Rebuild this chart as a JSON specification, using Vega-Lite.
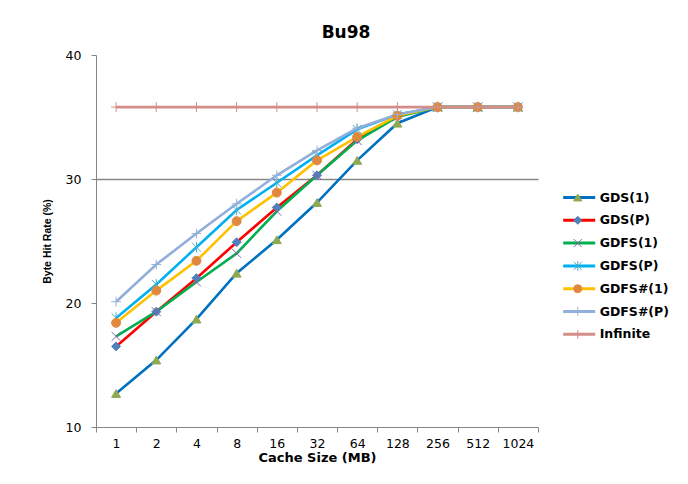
{
  "$schema": "https://vega.github.io/schema/vega-lite/v6.json",
  "width": 442,
  "height": 372,
  "autosize": {"type": "none"},
  "padding": {"left": 96, "top": 55, "right": 150, "bottom": 57},
  "background": "white",
  "config": {"view": {"stroke": null}},
  "title": {"text": "Bu98", "font": "DejaVu Sans", "fontSize": 17, "fontWeight": "bold", "color": "#000000", "dx": 29, "offset": 7},
  "data": {"values": [
    {"size": 1, "series": "GDS(1)", "v": 12.7}, {"size": 2, "series": "GDS(1)", "v": 15.4}, {"size": 4, "series": "GDS(1)", "v": 18.7}, {"size": 8, "series": "GDS(1)", "v": 22.4}, {"size": 16, "series": "GDS(1)", "v": 25.1}, {"size": 32, "series": "GDS(1)", "v": 28.1}, {"size": 64, "series": "GDS(1)", "v": 31.5}, {"size": 128, "series": "GDS(1)", "v": 34.5}, {"size": 256, "series": "GDS(1)", "v": 35.8}, {"size": 512, "series": "GDS(1)", "v": 35.8}, {"size": 1024, "series": "GDS(1)", "v": 35.8},
    {"size": 1, "series": "GDS(P)", "v": 16.5}, {"size": 2, "series": "GDS(P)", "v": 19.3}, {"size": 4, "series": "GDS(P)", "v": 22.0}, {"size": 8, "series": "GDS(P)", "v": 24.9}, {"size": 16, "series": "GDS(P)", "v": 27.7}, {"size": 32, "series": "GDS(P)", "v": 30.3}, {"size": 64, "series": "GDS(P)", "v": 33.2}, {"size": 128, "series": "GDS(P)", "v": 35.1}, {"size": 256, "series": "GDS(P)", "v": 35.8}, {"size": 512, "series": "GDS(P)", "v": 35.8}, {"size": 1024, "series": "GDS(P)", "v": 35.8},
    {"size": 1, "series": "GDFS(1)", "v": 17.3}, {"size": 2, "series": "GDFS(1)", "v": 19.3}, {"size": 4, "series": "GDFS(1)", "v": 21.7}, {"size": 8, "series": "GDFS(1)", "v": 24.0}, {"size": 16, "series": "GDFS(1)", "v": 27.4}, {"size": 32, "series": "GDFS(1)", "v": 30.3}, {"size": 64, "series": "GDFS(1)", "v": 33.1}, {"size": 128, "series": "GDFS(1)", "v": 35.0}, {"size": 256, "series": "GDFS(1)", "v": 35.8}, {"size": 512, "series": "GDFS(1)", "v": 35.8}, {"size": 1024, "series": "GDFS(1)", "v": 35.8},
    {"size": 1, "series": "GDFS(P)", "v": 18.8}, {"size": 2, "series": "GDFS(P)", "v": 21.5}, {"size": 4, "series": "GDFS(P)", "v": 24.5}, {"size": 8, "series": "GDFS(P)", "v": 27.5}, {"size": 16, "series": "GDFS(P)", "v": 29.7}, {"size": 32, "series": "GDFS(P)", "v": 31.9}, {"size": 64, "series": "GDFS(P)", "v": 34.0}, {"size": 128, "series": "GDFS(P)", "v": 35.2}, {"size": 256, "series": "GDFS(P)", "v": 35.8}, {"size": 512, "series": "GDFS(P)", "v": 35.8}, {"size": 1024, "series": "GDFS(P)", "v": 35.8},
    {"size": 1, "series": "GDFS#(1)", "v": 18.4}, {"size": 2, "series": "GDFS#(1)", "v": 21.0}, {"size": 4, "series": "GDFS#(1)", "v": 23.4}, {"size": 8, "series": "GDFS#(1)", "v": 26.6}, {"size": 16, "series": "GDFS#(1)", "v": 28.9}, {"size": 32, "series": "GDFS#(1)", "v": 31.5}, {"size": 64, "series": "GDFS#(1)", "v": 33.4}, {"size": 128, "series": "GDFS#(1)", "v": 35.1}, {"size": 256, "series": "GDFS#(1)", "v": 35.8}, {"size": 512, "series": "GDFS#(1)", "v": 35.8}, {"size": 1024, "series": "GDFS#(1)", "v": 35.8},
    {"size": 1, "series": "GDFS#(P)", "v": 20.1}, {"size": 2, "series": "GDFS#(P)", "v": 23.1}, {"size": 4, "series": "GDFS#(P)", "v": 25.6}, {"size": 8, "series": "GDFS#(P)", "v": 28.0}, {"size": 16, "series": "GDFS#(P)", "v": 30.3}, {"size": 32, "series": "GDFS#(P)", "v": 32.3}, {"size": 64, "series": "GDFS#(P)", "v": 34.1}, {"size": 128, "series": "GDFS#(P)", "v": 35.2}, {"size": 256, "series": "GDFS#(P)", "v": 35.8}, {"size": 512, "series": "GDFS#(P)", "v": 35.8}, {"size": 1024, "series": "GDFS#(P)", "v": 35.8},
    {"size": 1, "series": "Infinite", "v": 35.8}, {"size": 2, "series": "Infinite", "v": 35.8}, {"size": 4, "series": "Infinite", "v": 35.8}, {"size": 8, "series": "Infinite", "v": 35.8}, {"size": 16, "series": "Infinite", "v": 35.8}, {"size": 32, "series": "Infinite", "v": 35.8}, {"size": 64, "series": "Infinite", "v": 35.8}, {"size": 128, "series": "Infinite", "v": 35.8}, {"size": 256, "series": "Infinite", "v": 35.8}, {"size": 512, "series": "Infinite", "v": 35.8}, {"size": 1024, "series": "Infinite", "v": 35.8}
  ]},
  "encoding": {
    "x": {
      "field": "size", "type": "ordinal", "sort": null,
      "scale": {"type": "band", "paddingInner": 0, "paddingOuter": 0},
      "axis": {
        "title": "Cache Size (MB)", "labelAngle": 0, "tickBand": "extent", "tickSize": 5,
        "domainColor": "#868686", "tickColor": "#868686", "grid": false,
        "labelFont": "DejaVu Sans", "labelFontSize": 12.5, "labelColor": "#000000", "labelPadding": 5,
        "titleFont": "DejaVu Sans", "titleFontSize": 13, "titleFontWeight": "bold", "titleColor": "#000000", "titlePadding": 2
      }
    },
    "y": {
      "field": "v", "type": "quantitative",
      "scale": {"domain": [10, 40], "nice": false, "zero": false},
      "axis": {
        "title": "Byte Hit Rate (%)", "values": [10, 20, 30, 40], "tickSize": 5,
        "domainColor": "#868686", "tickColor": "#868686",
        "grid": true, "gridColor": "#868686", "gridWidth": 1.5,
        "gridOpacity": {"condition": {"test": "datum.value === 30", "value": 1}, "value": 0},
        "labelFont": "DejaVu Sans", "labelFontSize": 12.5, "labelColor": "#000000", "labelPadding": 10,
        "titleFont": "Liberation Sans", "titleFontSize": 10.5, "titleFontWeight": "bold", "titleColor": "#000000", "titlePadding": 13
      }
    }
  },
  "layer": [
    {
      "mark": {"type": "line", "strokeWidth": 2.6},
      "encoding": {
        "order": {"value": null},
        "color": {
          "field": "series", "type": "nominal",
          "scale": {
            "domain": ["GDS(1)", "GDS(P)", "GDFS(1)", "GDFS(P)", "GDFS#(1)", "GDFS#(P)", "Infinite"],
            "range": ["#0070C0", "#FF0000", "#00B050", "#00B0F0", "#FFC000", "#92AEDA", "#D48D89"]
          },
          "legend": {
            "orient": "none", "legendX": 465.7, "legendY": 136, "title": null,
            "symbolType": "stroke", "symbolSize": 1024, "symbolStrokeWidth": 3, "clipHeight": 13,
            "labelFont": "DejaVu Sans", "labelFontSize": 12.5, "labelFontWeight": "bold", "labelColor": "#000000",
            "labelOffset": 3, "rowPadding": 9.8
          }
        }
      }
    },
    {
      "mark": {"type": "point", "filled": true, "size": 80, "strokeWidth": 1, "opacity": 1},
      "encoding": {
        "shape": {
          "field": "series", "type": "nominal", "sort": null,
          "scale": {"range": ["triangle-up", "diamond", "M-1,-1L1,1M-1,1L1,-1", "M-1,-1L1,1M-1,1L1,-1M0,-1.2L0,1.2", "circle", "M-1.1,0L1.1,0M0,-1.1L0,1.1", "M-1.1,0L1.1,0M0,-1.1L0,1.1"]},
          "legend": {
            "orient": "none", "legendX": 475.5, "legendY": 136, "title": null,
            "symbolSize": 64, "symbolStrokeWidth": 1, "clipHeight": 13,
            "labelExpr": "''", "labelFontSize": 12.5,
            "labelOffset": 3, "rowPadding": 9.8
          }
        },
        "fill": {
          "field": "series", "type": "nominal", "sort": null,
          "scale": {"range": ["#8FA852", "#4F81BD", "#8064A2", "#4BACC6", "#E0893E", "#95B3D7", "#D48D89"]}
        },
        "stroke": {
          "field": "series", "type": "nominal", "sort": null,
          "scale": {"range": ["#8FA852", "#4F81BD", "#8064A2", "#4BACC6", "#E0893E", "#95B3D7", "#D48D89"]}
        }
      }
    }
  ]
}
